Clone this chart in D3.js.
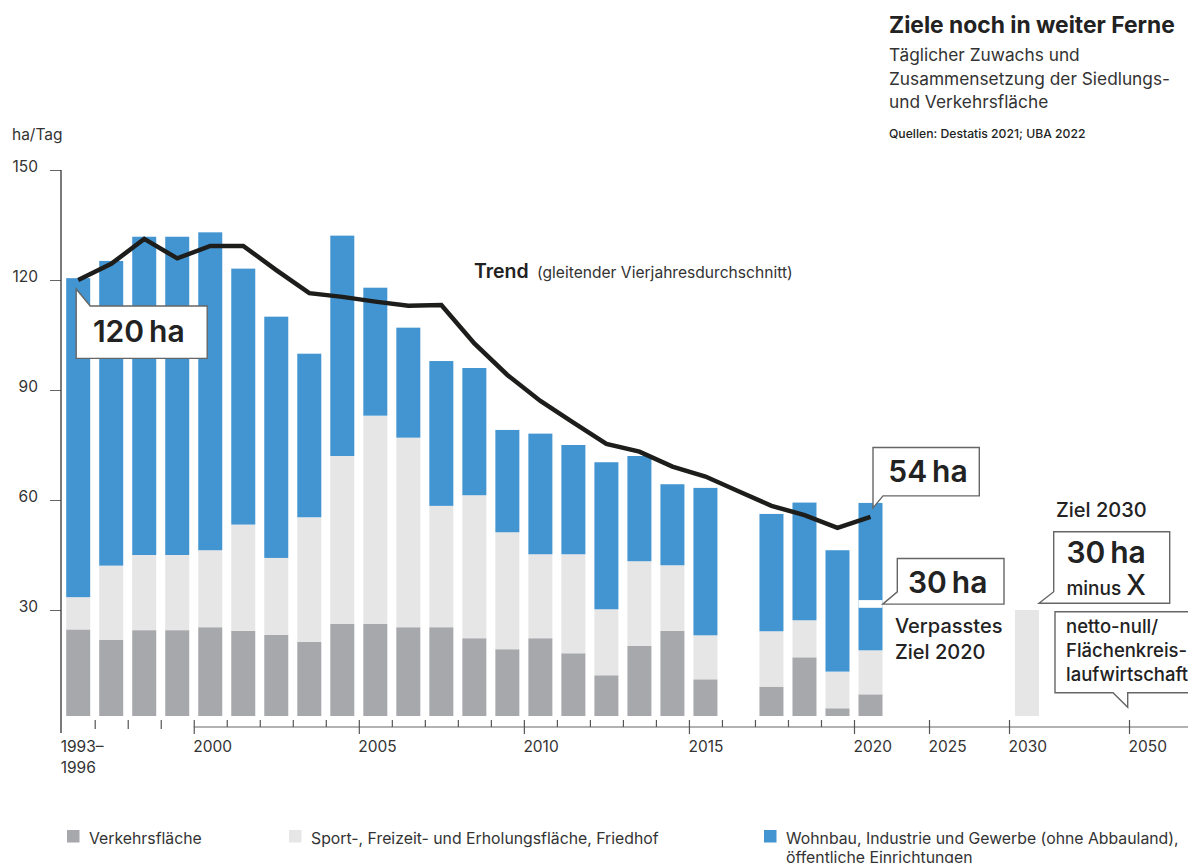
<!DOCTYPE html>
<html>
<head>
<meta charset="utf-8">
<script src="https://cdn.jsdelivr.net/npm/d3@7"></script>
<style>
	body { margin: 0; background: #fff; }
	text { font-family: Inter, Roboto, "Noto Sans", sans-serif; fill: #222; }
</style>
</head>
<body>
<svg id="chart"></svg>
<script>
// DATA (ha per day)

var years = [1996, 1997, 1998, 1999, 2000, 2001, 2002, 2003, 2004, 2005, 2006, 2007,
	2008, 2009, 2010, 2011, 2012, 2013, 2014, 2015, 2017, 2018, 2019, 2020];
var verkehr = [24.7, 21.9, 24.5, 24.5, 25.3, 24.3, 23.2, 21.3, 26.2, 26.2, 25.3, 25.3,
	22.3, 19.3, 22.3, 18.2, 12.2, 20.2, 24.3, 11.1, 9.1, 17.1, 3.2, 7.0];
var sport = [8.8, 20.2, 20.5, 20.5, 21.0, 29.0, 21.0, 34.0, 45.8, 56.8, 51.7, 33.1,
	39.0, 31.9, 22.9, 27.0, 18.0, 23.1, 17.9, 12.0, 15.1, 10.1, 10.0, 12.0];
var wohnbau = [87.0, 83.1, 86.8, 86.8, 86.7, 69.8, 65.8, 44.6, 60.1, 34.9, 30.0, 39.5,
	34.7, 27.9, 32.9, 29.8, 40.1, 28.7, 22.1, 40.2, 32.0, 32.1, 33.1, 40.2];

var trendYears = [1996, 1997, 1998, 1999, 2000, 2001, 2002, 2003, 2004, 2005, 2006, 2007,
	2008, 2009, 2010, 2011, 2012, 2013, 2014, 2015, 2016, 2017, 2018, 2019, 2020];
var trend = [120, 124.4, 131.2, 125.9, 129.3, 129.3, 122.7, 116.4, 115.4, 114.1, 113, 113.2,
	102.7, 94.1, 87, 81.1, 75.3, 73.2, 69.1, 66.4, 62.4, 58.4, 55.9, 52.4, 55.4];

var ziel2020 = 30;
var ziel2030 = 30;

var yTicks = [30, 60, 90, 120, 150];
var xMajor = [2000, 2005, 2010, 2015, 2020, 2025, 2030, 2050];
var xMinor = [2001, 2002, 2003, 2004, 2006, 2007, 2008, 2009, 2011, 2012, 2013, 2014,
	2016, 2017, 2018, 2019];
var xEarly = [1997, 1998, 1999];

var keys = ['verkehr', 'sport', 'wohnbau'];
var colors = { verkehr: '#a7a8ac', sport: '#e6e6e6', wohnbau: '#4395d2' };
var legendLabels = [
	['Verkehrsfläche'],
	['Sport-, Freizeit- und Erholungsfläche, Friedhof'],
	['Wohnbau, Industrie und Gewerbe (ohne Abbauland),', 'öffentliche Einrichtungen']
];

// DIMENSIONS

var width = 1188,
	height = 863,
	barWidth = 24,
	barInset = 4.5,
	barGap = 4;

var svg = d3.select('#chart')
	.attr('width', width)
	.attr('height', height)
	.style('background', '#fff');

// scales: one year per band up to 2020, then compressed future
var x = d3.scaleLinear()
	.domain([1996, 2020, 2025, 2030, 2050])
	.range([61.7, 854, 929, 1009, 1129]);
var band = x(1997) - x(1996);

var y = d3.scaleLinear()
	.domain([0, 150])
	.range([720, 170]);
var base = y(0) - barGap;

// BARS

var rows = years.map(function(yr, i) {
	return { year: yr, verkehr: verkehr[i], sport: sport[i], wohnbau: wohnbau[i] };
});
var stacked = d3.stack().keys(keys)(rows);

svg.append('g')
	.selectAll('g').data(stacked)
	.enter().append('g')
	.style('fill', function(d) { return colors[d.key]; })
	.selectAll('rect').data(function(d) { return d; })
	.enter().append('rect')
	.attr('x', function(d) { return x(d.data.year) + barInset; })
	.attr('width', barWidth)
	.attr('y', function(d) { return y(d[1]); })
	.attr('height', function(d) { return Math.min(y(d[0]), base) - y(d[1]); });

// missed 2020 target: white cut through the 2020 bar
svg.append('rect')
	.attr('x', x(2020) + barInset)
	.attr('width', barWidth)
	.attr('y', y(ziel2020 + 2.7))
	.attr('height', 7.7)
	.style('fill', '#fff');

// 2030 target bar
svg.append('rect')
	.attr('x', x(2030) + 6)
	.attr('width', barWidth)
	.attr('y', y(ziel2030))
	.attr('height', base - y(ziel2030))
	.style('fill', '#e6e6e6');

// AXES

var yAxis = d3.axisLeft(y)
	.tickValues(yTicks)
	.tickSize(11)
	.tickPadding(12);

var yGuide = svg.append('g')
	.attr('transform', 'translate(61, 0)')
	.call(yAxis);
yGuide.select('.domain').remove();
yGuide.selectAll('line').style('stroke', '#666');
yGuide.selectAll('text')
	.attr('dy', '0.12em')
	.style('font-size', '15.5px')
	.style('font-family', 'Inter, sans-serif')
	.style('fill', '#333');

svg.append('line')
	.attr('x1', 61).attr('x2', 61)
	.attr('y1', y(150)).attr('y2', 733)
	.style('stroke', '#333')
	.style('stroke-width', 1.3);

svg.append('text')
	.attr('x', 12)
	.attr('y', 140)
	.style('font-size', '15.5px')
	.style('fill', '#333')
	.text('ha/Tag');

// x axis line starts at 2000
svg.append('line')
	.attr('x1', x(2000)).attr('x2', width)
	.attr('y1', 727).attr('y2', 727)
	.style('stroke', '#999')
	.style('stroke-width', 1.5);

function ticks(values, size) {
	var g = svg.append('g')
		.attr('transform', 'translate(0, 720)')
		.call(d3.axisBottom(x).tickValues(values).tickSize(size).tickFormat(''));
	g.select('.domain').remove();
	g.selectAll('line').style('stroke', '#555').style('stroke-width', 1.2);
	return g;
}

ticks(xEarly, 9);
ticks(xMinor, 7);
var major = ticks(xMajor, 14);
major.selectAll('text')
	.text(function(d) { return d; })
	.attr('x', -1)
	.attr('y', 31.7)
	.attr('dy', 0)
	.attr('text-anchor', 'start')
	.style('font-size', '15.5px')
	.style('font-family', 'Inter, sans-serif')
	.style('fill', '#333');

var firstLabel = svg.append('text')
	.attr('x', x(1996) - 1)
	.attr('y', 751.7)
	.style('font-size', '15.5px')
	.style('fill', '#333');
firstLabel.append('tspan').text('1993–');
firstLabel.append('tspan').attr('x', x(1996) - 1).attr('dy', 21.6).text('1996');

// TREND LINE

var line = d3.line()
	.x(function(d, i) { return x(trendYears[i]) + band / 2; })
	.y(function(d) { return y(d); });

svg.append('path')
	.datum(trend)
	.attr('d', line)
	.style('fill', 'none')
	.style('stroke', '#1d1d1b')
	.style('stroke-width', 4.5);

svg.append('text')
	.attr('x', 474)
	.attr('y', 278.3)
	.style('font-size', '19.5px')
	.style('font-weight', 600)
	.text('Trend');
svg.append('text')
	.attr('x', 537)
	.attr('y', 278.3)
	.style('font-size', '15.6px')
	.style('fill', '#333')
	.text('(gleitender Vierjahresdurchschnitt)');

// CALLOUTS

var outline = d3.line();

function callout(pts) {
	svg.append('path')
		.attr('d', outline(pts) + 'Z')
		.style('fill', '#fff')
		.style('stroke', '#666')
		.style('stroke-width', 1.4);
}

function label(px, py, size, weight, str) {
	return svg.append('text')
		.attr('x', px)
		.attr('y', py)
		.style('font-size', size + 'px')
		.style('font-weight', weight)
		.text(str);
}

// 120 ha, tip on the first trend point
var ax = x(1996) + band / 2 - 2, ay = y(trend[0]) + 9;
callout([[ax, ay], [ax + 14, ay + 17], [ax + 131, ay + 17], [ax + 131, ay + 69.4], [ax, ay + 69.4]]);
label(ax + 16.7, ay + 53, 30, 600, '120\u2009ha');

// 54 ha, above the 2020 bar
var bx = x(2020) + 19, by = y(trend[trend.length - 1]) - 21;
callout([[bx, by - 48.3], [bx + 106.3, by - 48.3], [bx + 106.3, by], [bx + 10, by], [bx, by + 12]]);
label(bx + 15.3, by - 14, 30, 600, '54\u2009ha');

// 30 ha, missed 2020 target
var cx = x(2020) + barInset + barWidth + 0.2, cy = y(ziel2020 + 1.6);
callout([[cx + 14.6, cy - 45.7], [cx + 121.3, cy - 45.7], [cx + 121.3, cy], [cx, cy], [cx + 14.6, cy - 12.3]]);
label(cx + 25.3, cy - 10.7, 30, 600, '30\u2009ha');
label(895, 633, 20, 500, 'Verpasstes');
label(895, 659.3, 20, 500, 'Ziel 2020');

// Ziel 2030
var dx = x(2030) + 30, dy = y(ziel2030) - 6.7;
label(1056, 516.7, 20, 500, 'Ziel 2030');
callout([[dx + 14.7, dy - 71.6], [dx + 130.7, dy - 71.6], [dx + 130.7, dy], [dx, dy], [dx + 14.7, dy - 11.6]]);
label(dx + 27.4, dy - 40, 30, 600, '30\u2009ha');
var minus = label(dx + 27.4, dy - 8.3, 19, 500, 'minus ');
minus.append('tspan').style('font-size', '28px').text('X');

// netto-null 2050
var ex = x(2050) - 1.3, ey = 707.3;
callout([[ex - 72.7, ey - 95.6], [width + 20, ey - 95.6], [width + 20, ey - 14.6], [ex, ey - 14.6],
	[ex, ey], [ex - 14.7, ey - 14.6], [ex - 72.7, ey - 14.6]]);
label(1066, 633.3, 18.5, 500, 'netto-null/');
label(1066, 657.3, 18.5, 500, 'Flächenkreis-');
label(1066, 681, 18.5, 500, 'laufwirtschaft');

// TITLE

label(889, 33, 22.8, 700, 'Ziele noch in weiter Ferne');
label(889, 61, 17.3, 400, 'Täglicher Zuwachs und').style('fill', '#333');
label(889, 84.5, 17.3, 400, 'Zusammensetzung der Siedlungs-').style('fill', '#333');
label(889, 108, 17.3, 400, 'und Verkehrsfläche').style('fill', '#333');
label(889, 138, 12.2, 500, 'Quellen: Destatis 2021; UBA 2022');

// LEGEND

var legendX = [67, 289, 764];

var legend = svg.append('g')
	.selectAll('g').data(keys)
	.enter().append('g')
	.attr('transform', function(d, i) { return 'translate(' + legendX[i] + ', 830)'; });

legend.append('rect')
	.attr('width', 12.5)
	.attr('height', 12.5)
	.style('fill', function(d) { return colors[d]; });

legend.append('text')
	.attr('x', 22)
	.attr('y', 13.7)
	.style('font-size', '15.8px')
	.style('fill', '#333')
	.selectAll('tspan').data(function(d, i) { return legendLabels[i]; })
	.enter().append('tspan')
	.attr('x', 22)
	.attr('dy', function(d, i) { return i === 0 ? 0 : 19.5; })
	.text(function(d) { return d; });
</script>
</body>
</html>
